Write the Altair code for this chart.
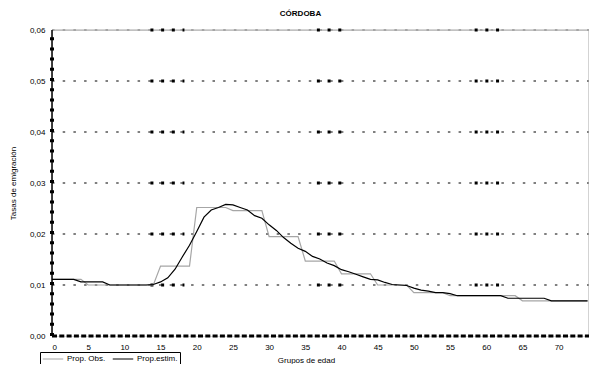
import altair as alt
import pandas as pd

# ---- data ----
ages = list(range(75))
prop_obs = [
    0.0111, 0.0111, 0.0111, 0.0111, 0.0111,
    0.0100, 0.0100, 0.0100, 0.0100, 0.0100,
    0.0100, 0.0100, 0.0100, 0.0100, 0.0100,
    0.0137, 0.0137, 0.0137, 0.0137, 0.0137,
    0.0252, 0.0252, 0.0252, 0.0252, 0.0252,
    0.0246, 0.0246, 0.0246, 0.0246, 0.0246,
    0.0195, 0.0195, 0.0195, 0.0195, 0.0195,
    0.0147, 0.0147, 0.0147, 0.0147, 0.0147,
    0.0122, 0.0122, 0.0122, 0.0122, 0.0122,
    0.0100, 0.0100, 0.0100, 0.0100, 0.0100,
    0.0085, 0.0085, 0.0085, 0.0085, 0.0085,
    0.0079, 0.0079, 0.0079, 0.0079, 0.0079,
    0.0079, 0.0079, 0.0079, 0.0079, 0.0079,
    0.0069, 0.0069, 0.0069, 0.0069, 0.0069,
    0.0069, 0.0069, 0.0069, 0.0069, 0.0069,
]
prop_est = [
    0.0111, 0.0111, 0.0111, 0.0111, 0.0106,
    0.0106, 0.0106, 0.0106, 0.0100, 0.0100,
    0.0100, 0.0100, 0.0100, 0.0100, 0.0101,
    0.0106, 0.0114, 0.0131, 0.0155, 0.0178,
    0.0205, 0.0233, 0.0247, 0.0252, 0.0258,
    0.0257, 0.0252, 0.0247, 0.0236, 0.0231,
    0.0218, 0.0207, 0.0193, 0.0182, 0.0172,
    0.0166, 0.0156, 0.0151, 0.0143, 0.0138,
    0.0130, 0.0126, 0.0121, 0.0116, 0.0111,
    0.0110, 0.0105, 0.0101, 0.0100, 0.0099,
    0.0094, 0.0090, 0.0088, 0.0085, 0.0085,
    0.0083, 0.0079, 0.0079, 0.0079, 0.0079,
    0.0079, 0.0079, 0.0079, 0.0074, 0.0074,
    0.0074, 0.0074, 0.0074, 0.0074, 0.0069,
    0.0069, 0.0069, 0.0069, 0.0069, 0.0069,
]
series_names = ["Prop. Obs.", "Prop.estim."]
series_colors = ["#a6a6a6", "#000000"]
grid_values = [0.01, 0.02, 0.03, 0.04, 0.05]
y_ticks = [0.0, 0.01, 0.02, 0.03, 0.04, 0.05, 0.06]
x_ticks = [0, 5, 10, 15, 20, 25, 30, 35, 40, 45, 50, 55, 60, 65, 70]
# age ranges where the reference's gridlines show heavy square dots
heavy_ranges = [(13.6, 18.3), (36.6, 40.0), (58.4, 61.8)]

X_MAX = 74.2
Y_MAX = 0.06
FONT = "Liberation Sans"

df = pd.DataFrame({
    "age": ages * 2,
    "value": prop_obs + prop_est,
    "serie": [series_names[0]] * len(ages) + [series_names[1]] * len(ages),
})

xscale = alt.Scale(domain=[0, X_MAX], nice=False, zero=False)
yscale = alt.Scale(domain=[0, Y_MAX], nice=False)

X_AXIS = alt.Axis(
    values=x_ticks, title="Grupos de edad", grid=False, domain=False,
    ticks=False, labelFont=FONT, labelFontSize=8, labelColor="black",
    labelPadding=7, titleFont=FONT, titleFontSize=8,
    titleFontWeight="normal", titleColor="black",
    titleX=254, titleY=24, titleBaseline="middle",
)
Y_AXIS = alt.Axis(
    values=y_ticks, title="Tasas de emigración", grid=False,
    domain=False, ticks=False, labelFont=FONT, labelFontSize=8,
    labelColor="black", labelPadding=7,
    labelExpr="replace(format(datum.value, '.2f'), '.', ',')",
    titleFont=FONT, titleFontSize=8, titleFontWeight="normal",
    titleColor="black", titlePadding=12,
)


def xenc(field):
    return alt.X(field, type="quantitative", scale=xscale, axis=X_AXIS, title="Grupos de edad")


def yenc(field):
    return alt.Y(field, type="quantitative", scale=yscale, axis=Y_AXIS, title="Tasas de emigración")


grid_df = pd.DataFrame({"y": grid_values, "x0": 0.0, "x1": X_MAX})
grid = alt.Chart(grid_df).mark_rule(
    color="black", strokeWidth=1, strokeDash=[2.5, 8.2]
).encode(x=xenc("x0"), x2="x1:Q", y=yenc("y"))

top_df = pd.DataFrame({"y": [Y_MAX], "x0": [0.0], "x1": [X_MAX]})
top_line = alt.Chart(top_df).mark_rule(color="#a6a6a6", strokeWidth=1).encode(
    x=xenc("x0"), x2="x1:Q", y=yenc("y"))
top_dash = alt.Chart(top_df).mark_rule(
    color="#a6a6a6", strokeWidth=2, strokeDash=[2.5, 8.2]
).encode(x=xenc("x0"), x2="x1:Q", y=yenc("y"))

right_df = pd.DataFrame({"x": [X_MAX], "y0": [0.0], "y1": [Y_MAX]})
right_line = alt.Chart(right_df).mark_rule(color="#a6a6a6", strokeWidth=1).encode(
    x=xenc("x"), y=yenc("y0"), y2="y1:Q")

heavy_rows = []
for gv in grid_values + [Y_MAX]:
    for a, b in heavy_ranges:
        heavy_rows.append({"y": gv, "x0": a, "x1": b})
heavy = alt.Chart(pd.DataFrame(heavy_rows)).mark_rule(
    color="black", strokeWidth=3, strokeDash=[3, 7.7]
).encode(x=xenc("x0"), x2="x1:Q", y=yenc("y"))

left_df = pd.DataFrame({"x": [0.0], "y0": [0.0], "y1": [Y_MAX]})
left_line = alt.Chart(left_df).mark_rule(color="black", strokeWidth=1.5).encode(
    x=xenc("x"), y=yenc("y0"), y2="y1:Q")
left_dots = alt.Chart(left_df).mark_rule(
    color="black", strokeWidth=4, strokeDash=[3, 7.2]
).encode(x=xenc("x"), y=yenc("y0"), y2="y1:Q")

bottom_df = pd.DataFrame({"y": [0.0], "x0": [0.0], "x1": [X_MAX]})
bottom_line = alt.Chart(bottom_df).mark_rule(
    color="black", strokeWidth=3, strokeDash=[5, 2.3]
).encode(x=xenc("x0"), x2="x1:Q", y=yenc("y"))

lines = alt.Chart(df).mark_line(strokeWidth=1.2).encode(
    x=xenc("age"),
    y=yenc("value"),
    color=alt.Color(
        "serie:N",
        scale=alt.Scale(domain=series_names, range=series_colors),
        legend=alt.Legend(
            title=None, orient="none", legendX=-12, legendY=322,
            direction="horizontal", columns=2, symbolType="stroke",
            symbolStrokeWidth=1.2, symbolSize=420, clipHeight=10,
            labelFont=FONT, labelFontSize=8, labelColor="black",
            strokeColor="black", fillColor="white", padding=2,
            columnPadding=6, labelOffset=3,
        ),
    ),
    detail="serie:N",
)

chart = alt.layer(
    grid, top_line, top_dash, heavy, right_line, lines,
    left_line, left_dots, bottom_line,
).properties(
    width=537, height=306,
    title=alt.TitleParams(
        "CÓRDOBA", font=FONT, fontSize=8, fontWeight="bold", color="black",
        anchor="middle", dx=-20, offset=8,
    ),
    autosize=alt.AutoSizeParams(type="none"),
    padding={"left": 44, "top": 22, "right": 0, "bottom": 28},
).configure_view(stroke=None).configure(background="white")

chart.save("out.html", embed_options={"renderer": "svg", "actions": False})
